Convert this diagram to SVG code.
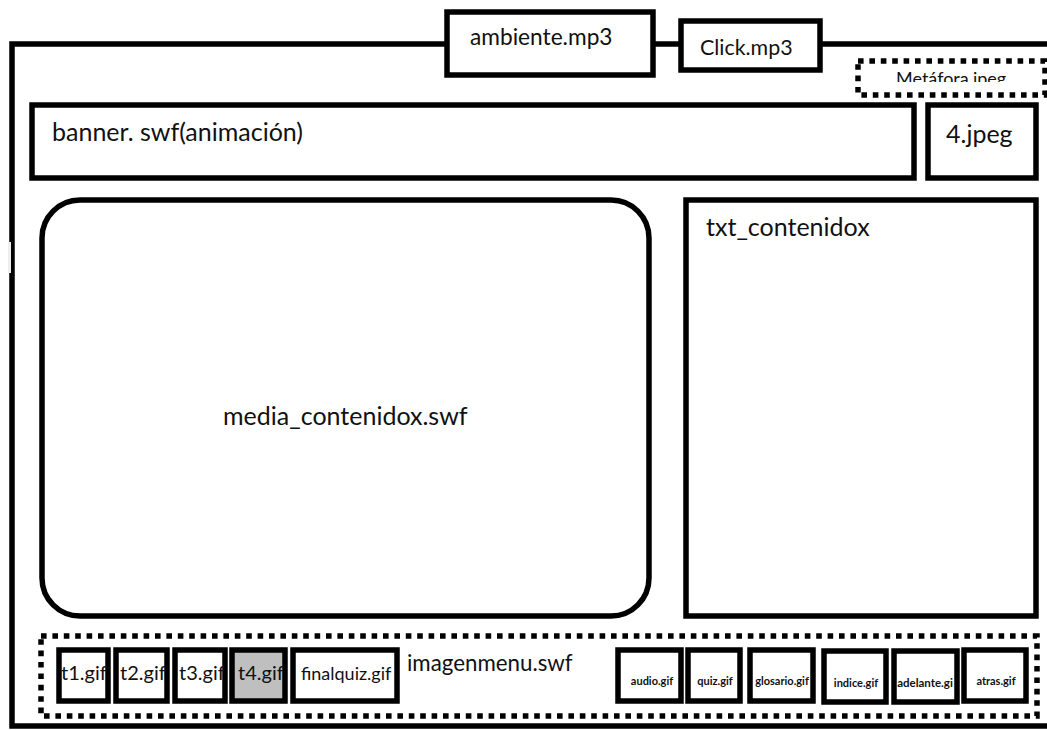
<svg xmlns="http://www.w3.org/2000/svg" width="1047" height="730" viewBox="0 0 1047 730">
<style>
.b{fill:#fff;stroke:#000;stroke-width:5.5}
.d{fill:#fff;stroke:#000;stroke-width:5.5;stroke-dasharray:5.6 5.8}
text{font-family:"Lato","Open Sans","Liberation Sans",sans-serif;fill:#111}
.l{font-size:25px}
.m{font-size:20px}
.s{font-size:11px;font-weight:700;text-anchor:middle}
</style>
<defs><clipPath id="mc"><rect x="860" y="62" width="187" height="20"/></clipPath></defs>
<rect width="1047" height="730" fill="#fff"/>
<g id="frame"><rect x="12" y="44" width="1050" height="682" fill="#fff" stroke="#000" stroke-width="5.5"/><rect x="8" y="242" width="3" height="31" fill="#eee"/></g>
<g id="ambiente"><rect class="b" x="447" y="12" width="206" height="63"/><text x="470" y="45" style="font-size:22.7px">ambiente.mp3</text></g>
<g id="click"><rect class="b" x="681" y="21" width="139" height="49"/><text x="700" y="55" style="font-size:21.4px">Click.mp3</text></g>
<g id="metafora"><rect class="d" x="858" y="61" width="187" height="34"/><text x="896" y="85" clip-path="url(#mc)" style="font-size:18px">Metáfora.jpeg</text></g>
<g id="banner"><rect class="b" x="32" y="105" width="882" height="73"/><text class="l" x="52" y="141">banner. swf(animación)</text></g>
<g id="jpeg4"><rect class="b" x="928" y="105" width="108" height="73"/><text class="l" x="946" y="143">4.jpeg</text></g>
<g id="media"><rect class="b" x="42" y="200" width="607" height="416" rx="38" ry="38"/><text class="l" x="223" y="425">media_contenidox.swf</text></g>
<g id="txt"><rect class="b" x="686" y="200" width="350" height="416"/><text class="l" x="706" y="236">txt_contenidox</text></g>
<g id="imagenmenu"><rect class="d" x="41" y="636" width="996" height="80"/><text x="407" y="671" style="font-size:22.3px">imagenmenu.swf</text></g>
<g id="t1"><rect class="b" x="59" y="650" width="49" height="51"/><text class="m" x="61" y="680">t1.gif</text></g>
<g id="t2"><rect class="b" x="116" y="650" width="51" height="51"/><text class="m" x="120" y="680">t2.gif</text></g>
<g id="t3"><rect class="b" x="175" y="650" width="50" height="51"/><text class="m" x="179" y="680">t3.gif</text></g>
<g id="t4"><rect class="b" x="232" y="650" width="53" height="51" style="fill:#bfbfbf"/><text class="m" x="238" y="680">t4.gif</text></g>
<g id="finalquiz"><rect class="b" x="293" y="650" width="104" height="51"/><text x="301" y="680" style="font-size:18px">finalquiz.gif</text></g>
<g id="audio"><rect class="b" x="618" y="650" width="63" height="51"/><text class="s" x="652" y="685">audio.gif</text></g>
<g id="quiz"><rect class="b" x="688" y="650" width="52" height="51"/><text class="s" x="715" y="685">quiz.gif</text></g>
<g id="glosario"><rect class="b" x="750" y="650" width="63" height="51"/><text class="s" x="782" y="685">glosario.gif</text></g>
<g id="indice"><rect class="b" x="824" y="651" width="62" height="51"/><text class="s" x="856" y="687">indice.gif</text></g>
<g id="adelante"><rect class="b" x="894" y="651" width="63" height="51"/><text class="s" x="925" y="687" style="font-size:11.5px">adelante.gi</text></g>
<g id="atras"><rect class="b" x="964" y="650" width="62" height="51"/><text class="s" x="996" y="685">atras.gif</text></g>
</svg>
